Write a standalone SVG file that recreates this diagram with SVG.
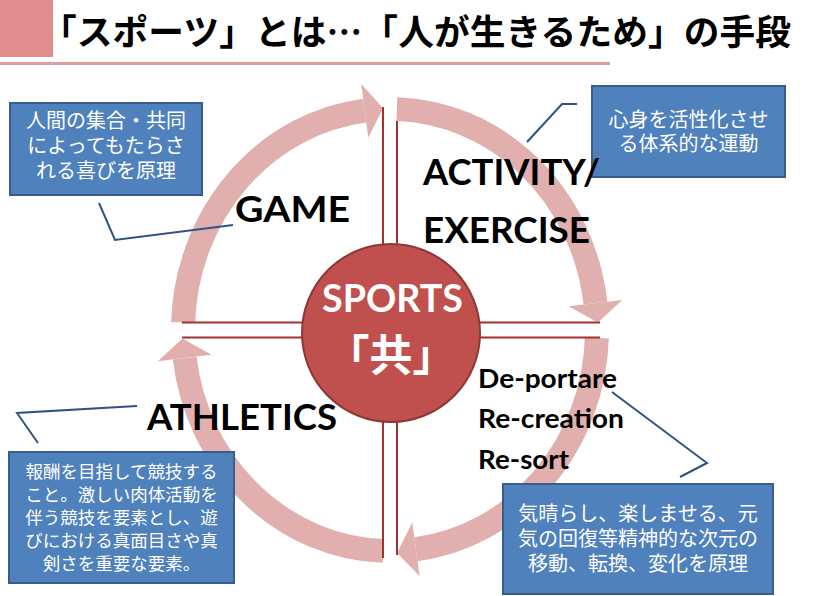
<svg xmlns="http://www.w3.org/2000/svg" width="813" height="596" viewBox="0 0 813 596">
<style>
.arc{fill:none;stroke:#E0AFAE;stroke-width:24;stroke-linecap:butt}
.head{fill:#E0AFAE}
.cross{stroke:#A2302E;stroke-width:2;fill:none}
.box{fill:#4F81BD;stroke:#385D8A;stroke-width:2}
.bt{fill:#FFFFFF;font-family:"Noto Sans CJK JP","Noto Sans",sans-serif;text-anchor:middle}
.lbl{fill:#000000;font-family:Lato,"Liberation Sans",sans-serif;font-weight:700}
.con{fill:none;stroke:#2F5283;stroke-width:2}
</style>
<rect width="813" height="596" fill="#FFFFFF"/>
<g id="title">
<rect x="0" y="0" width="53" height="57" fill="#E38E8E"/>
<line x1="0" y1="63.5" x2="610" y2="63.5" stroke="#DE9E9E" stroke-width="3"/>
<text x="41" y="45" font-family="'Noto Sans CJK JP',sans-serif" font-weight="700" font-size="35.7" fill="#000" textLength="750" lengthAdjust="spacing">「スポーツ」とは…「人が生きるため」の手段</text>
</g>
<g id="cycle">
<path class="arc" d="M183.13,322.29 A207,221 0 0 1 364.77,110.65"/>
<polygon class="head" points="368.28,137.42 383.1,108.2 361.26,83.88"/>
<path class="arc" d="M396.86,109.12 A207,221 0 0 1 595.46,303.07"/>
<polygon class="head" points="568.64,306.16 597.8,322.5 622.28,299.99"/>
<path class="arc" d="M596.87,337.98 A207,221 0 0 1 415.94,549.26"/>
<polygon class="head" points="412.33,522.50 397.1,553 419.55,576.02"/>
<path class="arc" d="M383.14,550.88 A207,221 0 0 1 184.68,358.08"/>
<polygon class="head" points="211.49,354.86 182.4,338.5 157.87,361.30"/>
</g>
<g id="connectors">
<line class="cross" x1="383" y1="107" x2="383" y2="558"/>
<line class="cross" x1="397" y1="121" x2="397" y2="555"/>
<line class="cross" x1="182" y1="322.5" x2="600" y2="322.5"/>
<line class="cross" x1="182" y1="337.5" x2="600" y2="337.5"/>
<polyline class="con" points="99,203 115,240 233,225"/>
<polyline class="con" points="577,104 562,104 527,142"/>
<polyline class="con" points="38,443 17,413 137,406"/>
<polyline class="con" points="612,392 707,463 680,477"/>
</g>
<g id="sports">
<circle cx="391" cy="333" r="89" fill="#C0504D" stroke="#8C3836" stroke-width="2"/>
<text x="392.5" y="312" text-anchor="middle" font-family="Lato,'Liberation Sans',sans-serif" font-weight="700" font-size="39" fill="#FFFFFF" textLength="141" lengthAdjust="spacingAndGlyphs">SPORTS</text>
<text x="391" y="371" text-anchor="middle" font-family="'Noto Sans CJK JP',sans-serif" font-weight="700" font-size="43" fill="#FFFFFF">「共」</text>
</g>
<g id="game">
<rect class="box" x="10" y="103" width="192" height="92"/>
<text class="bt" font-size="20"><tspan x="106" y="128">人間の集合・共同</tspan><tspan x="106" y="153">によってもたらさ</tspan><tspan x="106" y="178">れる喜びを原理</tspan></text>
<text class="lbl" x="235" y="222" font-size="36" textLength="115" lengthAdjust="spacingAndGlyphs">GAME</text>
</g>
<g id="activity">
<rect class="box" x="592" y="86" width="193" height="91"/>
<text class="bt" font-size="20"><tspan x="688.5" y="127">心身を活性化させ</tspan><tspan x="688.5" y="151">る体系的な運動</tspan></text>
<text class="lbl" x="423" y="185" font-size="36" textLength="177" lengthAdjust="spacingAndGlyphs">ACTIVITY/</text>
<text class="lbl" x="423" y="243" font-size="36" textLength="167" lengthAdjust="spacingAndGlyphs">EXERCISE</text>
</g>
<g id="athletics">
<rect class="box" x="9" y="452" width="225" height="131"/>
<text class="bt" font-size="17.5"><tspan x="121.5" y="478">報酬を目指して競技する</tspan><tspan x="121.5" y="501">こと。激しい肉体活動を</tspan><tspan x="121.5" y="524">伴う競技を要素とし、遊</tspan><tspan x="121.5" y="547">びにおける真面目さや真</tspan><tspan x="121.5" y="570">剣さを重要な要素。</tspan></text>
<text class="lbl" x="147" y="430" font-size="36" textLength="190" lengthAdjust="spacingAndGlyphs">ATHLETICS</text>
</g>
<g id="recreation">
<rect class="box" x="503" y="484" width="270" height="110"/>
<text class="bt" font-size="20"><tspan x="638" y="520.5">気晴らし、楽しませる、元</tspan><tspan x="638" y="545.5">気の回復等精神的な次元の</tspan><tspan x="638" y="570.5">移動、転換、変化を原理</tspan></text>
<text class="lbl" x="478" y="388" font-size="26" textLength="139" lengthAdjust="spacingAndGlyphs">De-portare</text>
<text class="lbl" x="478" y="428" font-size="26" textLength="146" lengthAdjust="spacingAndGlyphs">Re-creation</text>
<text class="lbl" x="478" y="469" font-size="26" textLength="91" lengthAdjust="spacingAndGlyphs">Re-sort</text>
</g>
</svg>
